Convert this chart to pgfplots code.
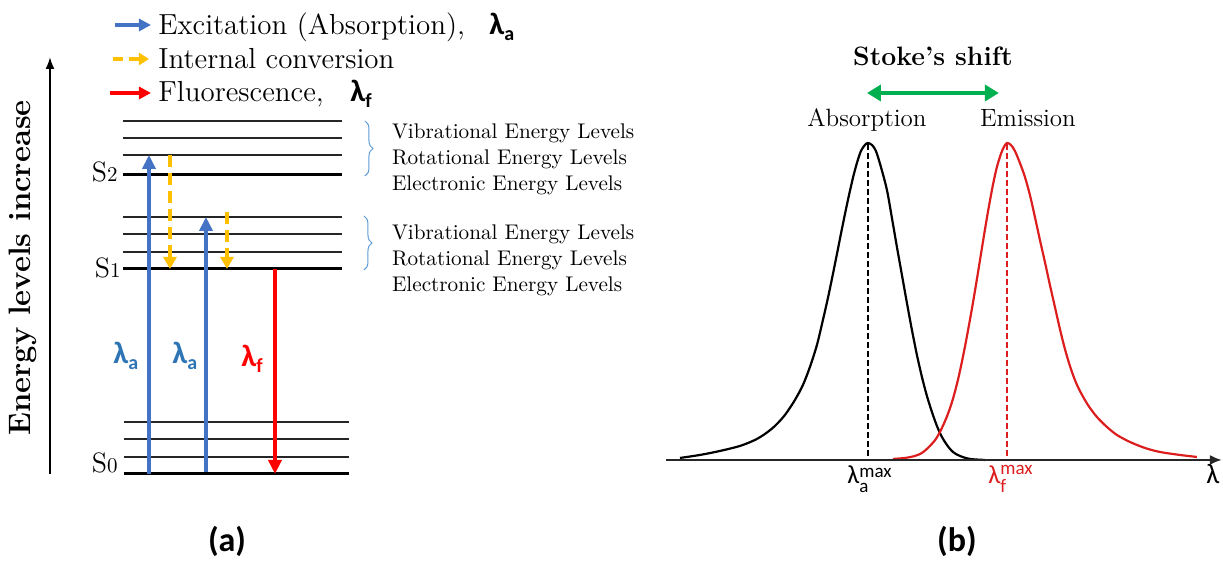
\documentclass[border=0pt]{standalone}
\usepackage{fontspec}
\usepackage{pgfplots}
\pgfplotsset{compat=1.18}
\usetikzlibrary{arrows.meta,decorations.pathreplacing}
\newfontfamily\calib{Carlito}
\definecolor{cblue}{HTML}{4472C4}
\definecolor{lblue}{HTML}{2E75B6}
\definecolor{corange}{HTML}{FFC000}
\definecolor{cred}{HTML}{FF0000}
\definecolor{cgreen}{HTML}{00B050}
\definecolor{bracec}{HTML}{5B9BD5}
\definecolor{ered}{RGB}{220,30,30}
\newcommand\fs[1]{\fontsize{#1}{#1}\selectfont}
\newcommand\lamsub[1]{{\calib\bfseries\fs{15.5}λ\raisebox{-3pt}{\fs{10}#1}}}
\newcommand\lammax[1]{{\calib\fs{13}λ\raisebox{-4.2pt}{\fs{9.5}\def\arraystretch{0.8}\begin{tabular}[b]{@{}l@{}}max\\#1\end{tabular}}}}
\newcommand\Slev[1]{{\fs{14}S}{\fs{10.5}#1}}
\begin{document}
\begin{tikzpicture}
\begin{axis}[scale only axis, width=611.5pt, height=281.5pt,
  xmin=0, xmax=1223, ymin=0, ymax=563, y dir=reverse,
  axis lines=none, clip=false]
\path (axis cs:0,0) rectangle (axis cs:1223,563);

% ---------------- (a) Jablonski diagram ----------------
% energy axis
\addplot[black, line width=1pt, -{Latex[length=6pt,width=4.5pt]}] coordinates {(50,474) (50,57)};
\node[rotate=90, anchor=base, font=\bfseries\fs{15.5}] at (axis cs:31,268) {Energy levels increase};

% S2 group
\addplot[black!85, line width=0.7pt] coordinates {(123,121) (342,121)};
\addplot[black!85, line width=0.7pt] coordinates {(123,138) (342,138)};
\addplot[black!85, line width=0.7pt] coordinates {(123,155) (342,155)};
\addplot[black, line width=1.5pt] coordinates {(123,175) (342,175)};
% S1 group
\addplot[black!85, line width=0.7pt] coordinates {(123,217) (342,217)};
\addplot[black!85, line width=0.7pt] coordinates {(123,234) (342,234)};
\addplot[black!85, line width=0.7pt] coordinates {(123,252) (342,252)};
\addplot[black, line width=1.5pt] coordinates {(123,269) (342,269)};
% S0 group
\addplot[black!85, line width=0.7pt] coordinates {(124,422) (349,422)};
\addplot[black!85, line width=0.7pt] coordinates {(124,439) (349,439)};
\addplot[black!85, line width=0.7pt] coordinates {(124,457) (349,457)};
\addplot[black, line width=1.5pt] coordinates {(124,474) (349,474)};

\node[anchor=base east, inner sep=0pt] at (axis cs:118,182) {\Slev{2}};
\node[anchor=base east, inner sep=0pt] at (axis cs:121,278) {\Slev{1}};
\node[anchor=base east, inner sep=0pt] at (axis cs:118,473) {\Slev{0}};

% transitions
\addplot[cblue, line width=2pt, -{Triangle[length=7pt,width=6.5pt]}] coordinates {(149,474) (149,155)};
\addplot[cblue, line width=2pt, -{Triangle[length=7pt,width=6.5pt]}] coordinates {(206,472) (206,217)};
\addplot[corange, line width=1.6pt, dash pattern=on 6pt off 3pt, -{Triangle[length=6pt,width=6.5pt]}] coordinates {(170,155) (170,269)};
\addplot[corange, line width=1.6pt, dash pattern=on 6pt off 3pt, -{Triangle[length=6pt,width=6.5pt]}] coordinates {(227,212) (227,269)};
\addplot[cred, line width=2pt, -{Triangle[length=7pt,width=6.5pt]}] coordinates {(275,269) (275,474)};

\node[anchor=base west, inner sep=0pt, text=lblue] at (axis cs:113,364) {\lamsub{a}};
\node[anchor=base west, inner sep=0pt, text=lblue] at (axis cs:172,364) {\lamsub{a}};
\node[anchor=base west, inner sep=0pt, text=cred] at (axis cs:241,367) {\lamsub{f}};

% braces and level names
\draw[bracec, line width=0.5pt, decorate, decoration={brace, amplitude=4pt}] (axis cs:365,121) -- (axis cs:365,176);
\draw[bracec, line width=0.5pt, decorate, decoration={brace, amplitude=4pt}] (axis cs:364,216) -- (axis cs:364,270);
\node[anchor=base west, font=\fs{10.6}] at (axis cs:385,139) {Vibrational Energy Levels};
\node[anchor=base west, font=\fs{10.6}] at (axis cs:385,165) {Rotational Energy Levels};
\node[anchor=base west, font=\fs{10.6}] at (axis cs:385,191) {Electronic Energy Levels};
\node[anchor=base west, font=\fs{10.6}] at (axis cs:385,240) {Vibrational Energy Levels};
\node[anchor=base west, font=\fs{10.6}] at (axis cs:385,266) {Rotational Energy Levels};
\node[anchor=base west, font=\fs{10.6}] at (axis cs:385,292) {Electronic Energy Levels};

% legend
\addplot[cblue, line width=2pt, -{Triangle[length=6pt,width=6pt]}] coordinates {(115,25) (151,25)};
\addplot[corange, line width=1.6pt, dash pattern=on 5pt off 3pt, -{Triangle[length=5pt,width=6pt]}] coordinates {(113,59) (149,59)};
\addplot[cred, line width=2pt, -{Triangle[length=6pt,width=6pt]}] coordinates {(110,93) (151,93)};
\node[anchor=base west, inner sep=0pt, font=\fs{14.5}] at (axis cs:158,35) {Excitation (Absorption),};
\node[anchor=base west, inner sep=0pt] at (axis cs:489,35) {\lamsub{a}};
\node[anchor=base west, inner sep=0pt, font=\fs{14.5}] at (axis cs:158,69) {Internal conversion};
\node[anchor=base west, inner sep=0pt, font=\fs{14.5}] at (axis cs:158,102) {Fluorescence,};
\node[anchor=base west, inner sep=0pt] at (axis cs:350,102) {\lamsub{f}};

\node[font=\calib\bfseries\fs{17}] at (axis cs:227,542) {(a)};

% ---------------- (b) spectra ----------------
\addplot[black, line width=1.1pt, smooth] coordinates {
(680,458) (700,455) (720,451) (740,446) (755,440) (765,434) (775,426) (785,415)
(795,400) (803,385) (810,367) (817,345) (823,320) (828,298) (833,274) (838,249)
(843,224) (848,200) (853,178) (857,163) (861,151) (865,145) (868,143) (872,145)
(876,151) (881,167) (887,190) (892,218) (897,247) (902,275) (907,303) (912,330)
(917,355) (922,377) (927,396) (932,412) (937,426) (942,437) (947,445) (953,452)
(960,456) (970,459) (985,460)};
\addplot[ered, line width=1.1pt, smooth] coordinates {
(893,459) (905,458) (915,456) (922,453) (929,447) (936,439) (942,428) (948,414)
(953,399) (958,380) (963,357) (968,331) (973,303) (978,273) (983,242) (988,212)
(993,185) (997,167) (1001,154) (1004,147) (1007,143) (1011,145) (1015,151)
(1020,163) (1025,177) (1030,195) (1035,217) (1040,240) (1045,262) (1050,285)
(1055,307) (1060,329) (1065,349) (1070,366) (1075,380) (1080,391) (1088,405)
(1097,417) (1107,427) (1117,435) (1130,442) (1145,448) (1160,452) (1180,455)
(1197,457)};
\addplot[black, line width=0.9pt, dash pattern=on 3pt off 1.5pt] coordinates {(868,144) (868,460)};
\addplot[ered, line width=0.9pt, dash pattern=on 3pt off 1.5pt] coordinates {(1007,144) (1007,460)};
\addplot[black!85, line width=1.1pt, -{Latex[length=6pt,width=5pt]}] coordinates {(666,460) (1222,460)};

\node[anchor=base west, inner sep=0pt] at (axis cs:847,484) {\lammax{a}};
\node[anchor=base west, inner sep=0pt, text=ered] at (axis cs:988,484) {\lammax{f}};
\node[anchor=base, inner sep=0pt, font=\calib\fs{14}] at (axis cs:1213,484) {λ};

\addplot[cgreen, line width=2.2pt, {Triangle[length=7pt,width=8pt]}-{Triangle[length=7pt,width=8pt]}] coordinates {(867,93) (999,93)};
\node[anchor=base, inner sep=0pt, font=\bfseries\fs{13.3}] at (axis cs:933,66) {Stoke’s shift};
\node[anchor=base, inner sep=0pt, font=\fs{12.5}] at (axis cs:867,127) {Absorption};
\node[anchor=base, inner sep=0pt, font=\fs{12.5}] at (axis cs:1028,127) {Emission};

\node[font=\calib\bfseries\fs{17}] at (axis cs:957,542) {(b)};
\end{axis}
\end{tikzpicture}
\end{document}
